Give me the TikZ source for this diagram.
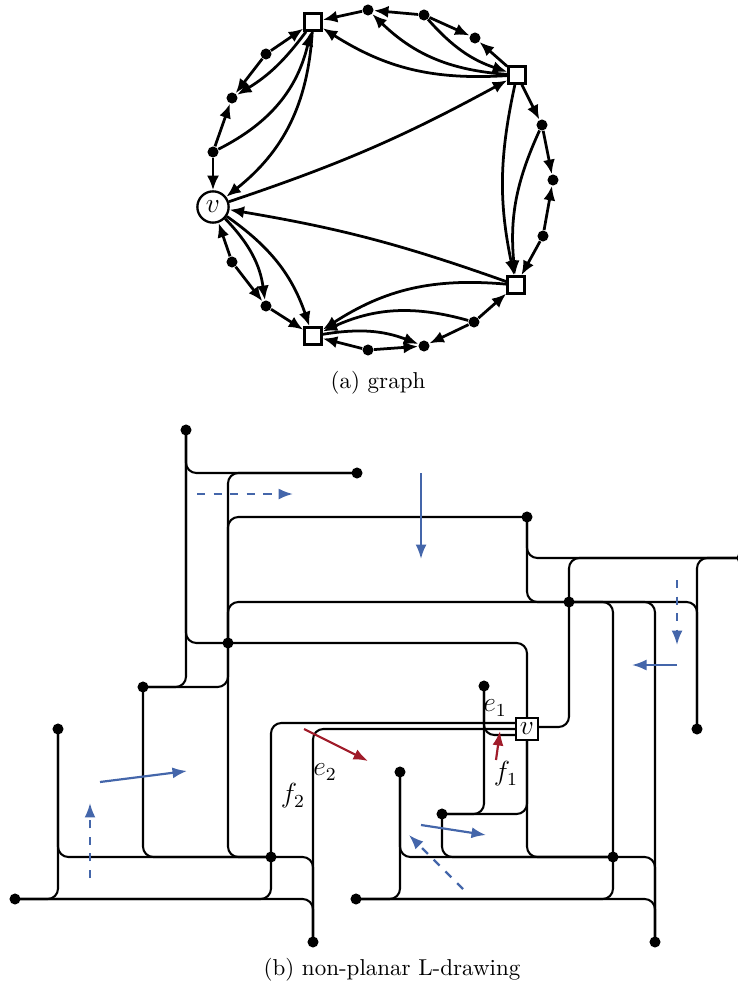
\documentclass[tikz,border=0pt]{standalone}
\usetikzlibrary{arrows.meta}
\definecolor{myblue}{RGB}{68,102,170}
\definecolor{myred}{RGB}{160,28,42}
\begin{document}
\begin{tikzpicture}[x=0.4348pt,y=-0.4348pt,
 dot/.style={circle,fill=black,inner sep=0pt,minimum size=4.8pt},
 sq/.style={draw,line width=1pt,fill=white,inner sep=0pt,minimum size=7.5pt},
 gedge/.style={line width=1.2pt,-{Latex[length=6.3pt,width=5.2pt]}},
 ledge/.style={line width=0.9pt,rounded corners=4.5pt},
 barrow/.style={myblue,line width=0.95pt,-{Latex[length=6.3pt,width=4.8pt]}},
 rarrow/.style={myred,line width=0.95pt,-{Latex[length=6.3pt,width=4.8pt]}},
 dsh/.style={dash pattern=on 3.6pt off 3.6pt},
 lab/.style={inner sep=0pt}]
\path[use as bounding box] (0,0) rectangle (737,990);
% ---------------- (a) graph ----------------
\node[sq] (S1) at (313,22) {};
\node[sq] (S2) at (517,75) {};
\node[sq] (S3) at (516,285) {};
\node[sq] (S4) at (313,336) {};
\node[circle,draw,line width=1pt,fill=white,minimum size=13.6pt,inner sep=0pt] (v) at (213,207) {\large$v$};
\node[dot] (a1) at (368,10) {};
\node[dot] (a2) at (424,15) {};
\node[dot] (a3) at (475,38) {};
\node[dot] (b1) at (542,125) {};
\node[dot] (b2) at (553,180) {};
\node[dot] (b3) at (543,236) {};
\node[dot] (c1) at (474,322) {};
\node[dot] (c2) at (424,346) {};
\node[dot] (c3) at (368,350) {};
\node[dot] (d1) at (266,306) {};
\node[dot] (d2) at (232,262) {};
\node[dot] (e1) at (213,152) {};
\node[dot] (e2) at (232,98) {};
\node[dot] (e3) at (266,54) {};
% straight edges
\draw[gedge] (a1) -- (S1);
\draw[gedge] (a2) -- (a1);
\draw[gedge] (a2) -- (a3);
\draw[gedge] (S2) -- (a3);
\draw[gedge] (S2) -- (b1);
\draw[gedge] (b1) -- (b2);
\draw[gedge] (b3) -- (b2);
\draw[gedge] (b3) -- (S3);
\draw[gedge] (c1) -- (S3);
\draw[gedge] (c1) -- (c2);
\draw[gedge] (c3) -- (c2);
\draw[gedge] (c3) -- (S4);
\draw[gedge] (d1) -- (S4);
\draw[gedge] (d2) -- (d1);
\draw[gedge] (d2) -- (v);
\draw[gedge] (e1) -- (v);
\draw[gedge] (e1) -- (e2);
\draw[gedge] (e3) -- (e2);
\draw[gedge] (e3) -- (S1);
% curved edges
\draw[gedge] (S2) to[bend left=20] (a1);
\draw[gedge] (a2) to[bend right=15] (S2);
\draw[gedge] (S2) to[bend left=18] (S1);
\draw[gedge] (S2) to[bend right=12] (S3);
\draw[gedge] (b1) to[bend right=15] (S3);
\draw[gedge] (S3) to[bend right=19] (S4);
\draw[gedge] (c1) to[bend right=20] (S4);
\draw[gedge] (S4) to[bend left=15] (c2);
\draw[gedge] (v) to[bend left=18] (d1);
\draw[gedge] (v) to[bend left=18] (S4);
\draw[gedge] (S3) to[bend right=5] (v);
\draw[gedge] (v) to[bend right=5] (S2);
\draw[gedge] (S1) to[bend left=24] (v);
\draw[gedge] (e1) to[bend right=25] (S1);
\draw[gedge] (S1) to[bend left=11] (e2);
\node (capa) at (378,383) {(a) graph};
% ---------------- (b) L-drawing ----------------
\node[dot] (P1) at (186,430) {};
\node[dot] (K2) at (357,473) {};
\node[dot] (R) at (527,517) {};
\node[dot] (K) at (742,558) {};
\node[dot] (G) at (569,602) {};
\node[dot] (Q) at (228,643) {};
\node[dot] (A) at (143,687) {};
\node[dot] (L) at (484,686) {};
\node[dot] (F) at (58,729) {};
\node[dot] (J) at (697,729) {};
\node[dot] (N) at (400,772) {};
\node[dot] (M) at (442,814) {};
\node[dot] (B) at (271,857) {};
\node[dot] (H) at (613,857) {};
\node[dot] (E) at (15,899) {};
\node[dot] (O) at (356,899) {};
\node[dot] (D) at (313,942) {};
\node[dot] (I) at (655,942) {};
\node[draw,line width=0.9pt,fill=white,minimum width=9.6pt,minimum height=9.6pt,inner sep=0pt] (vb) at (527,729) {\large$v$};
\coordinate (vl1) at (vb.west |- 0,723);
\coordinate (vl2) at (vb.west |- 0,729);
\coordinate (vl3) at (vb.west |- 0,735);
\coordinate (vr) at (vb.east |- 0,727);
\draw[ledge] (P1.center) |- (K2.center);
\draw[ledge] (P1.center) |- (Q.center);
\draw[ledge] (P1.center) |- (A.center);
\draw[ledge] (K2.center) -| (Q.center);
\draw[ledge] (Q.center) |- (R.center);
\draw[ledge] (Q.center) |- (G.center);
\draw[ledge] (Q.center) |- (B.center);
\draw[ledge] (A.center) -| (Q.center);
\draw[ledge] (A.center) |- (B.center);
\draw[ledge] (F.center) |- (B.center);
\draw[ledge] (B.center) -| (D.center);
\draw[ledge] (E.center) -| (B.center);
\draw[ledge] (E.center) -| (D.center);
\draw[ledge] (E.center) -| (F.center);
\draw[ledge] (vl1) -| (B.center);
\draw[ledge] (vl2) -| (D.center);
\draw[ledge] (vl3) -| (L.center);
\draw[ledge] (vb.north) |- (Q.center);
\draw[ledge] (R.center) |- (K.center);
\draw[ledge] (R.center) |- (G.center);
\draw[ledge] (G.center) |- (K.center);
\draw[ledge] (vr) -| (G.center);
\draw[ledge] (G.center) -| (H.center);
\draw[ledge] (G.center) -| (I.center);
\draw[ledge] (G.center) -| (J.center);
\draw[ledge] (K.center) -| (J.center);
\draw[ledge] (M.center) -| (L.center);
\draw[ledge] (M.center) -| (vb.south);
\draw[ledge] (vb.south) |- (H.center);
\draw[ledge] (M.center) |- (H.center);
\draw[ledge] (N.center) |- (H.center);
\draw[ledge] (O.center) -| (N.center);
\draw[ledge] (O.center) -| (H.center);
\draw[ledge] (O.center) -| (I.center);
\draw[ledge] (H.center) -| (I.center);
% blue direction arrows
\coordinate (u1s) at (197,494); \coordinate (u1e) at (293,494);
\coordinate (u2s) at (421,473); \coordinate (u2e) at (421,559);
\coordinate (u3s) at (677,580); \coordinate (u3e) at (677,645);
\coordinate (u4s) at (677,665); \coordinate (u4e) at (632,665);
\coordinate (u5s) at (100,782); \coordinate (u5e) at (187,771);
\coordinate (u6s) at (90,878);  \coordinate (u6e) at (90,803);
\coordinate (u7s) at (421,825); \coordinate (u7e) at (486,835);
\coordinate (u8s) at (463,889); \coordinate (u8e) at (409,835);
\draw[barrow,dsh] (u1s) -- (u1e);
\draw[barrow] (u2s) -- (u2e);
\draw[barrow,dsh] (u3s) -- (u3e);
\draw[barrow] (u4s) -- (u4e);
\draw[barrow] (u5s) -- (u5e);
\draw[barrow,dsh] (u6s) -- (u6e);
\draw[barrow] (u7s) -- (u7e);
\draw[barrow,dsh] (u8s) -- (u8e);
% red arrows
\coordinate (r1s) at (304,729); \coordinate (r1e) at (368,761);
\coordinate (r2s) at (496,760); \coordinate (r2e) at (500,731);
\draw[rarrow] (r1s) -- (r1e);
\draw[rarrow] (r2s) -- (r2e);
% labels
\node[lab] (le1) at (495,708) {\large$e_1$};
\node[lab] (le2) at (325,772) {\large$e_2$};
\node[lab] (lf1) at (506,774) {\large$f_1$};
\node[lab] (lf2) at (293,796) {\large$f_2$};
\node (capb) at (392,970) {(b) non-planar L-drawing};
\end{tikzpicture}
\end{document}
